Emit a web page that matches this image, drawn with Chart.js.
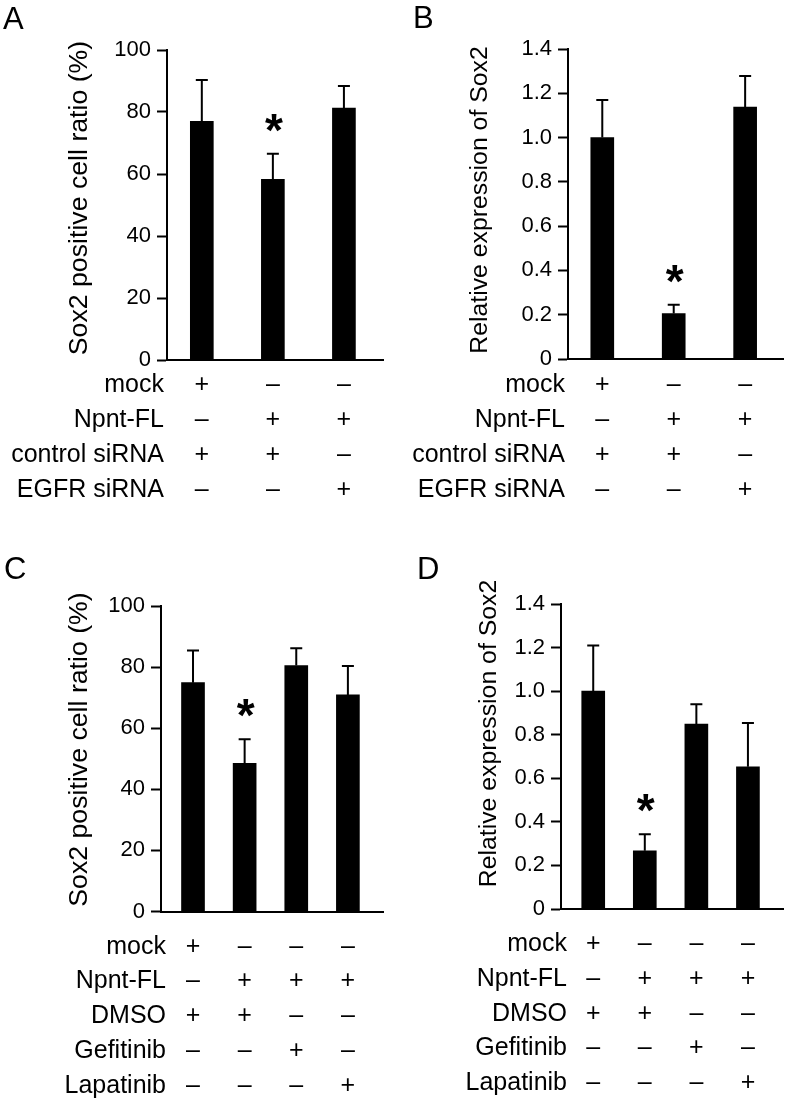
<!DOCTYPE html>
<html>
<head>
<meta charset="utf-8">
<title>Sox2 expression</title>
<script src="https://cdn.jsdelivr.net/npm/chart.js@4.4.1/dist/chart.umd.min.js"></script>
<style>
  body { margin: 0; background: #fff; }
  #wrap { position: relative; width: 787px; height: 1100px; }
  .panel { position: absolute; }
</style>
</head>
<body>
<div id="wrap">
  <div class="panel" style="left:0;top:0;width:393px;height:545px"><canvas id="chartA"></canvas></div>
  <div class="panel" style="left:393px;top:0;width:394px;height:545px"><canvas id="chartB"></canvas></div>
  <div class="panel" style="left:0;top:545px;width:393px;height:555px"><canvas id="chartC"></canvas></div>
  <div class="panel" style="left:393px;top:545px;width:394px;height:555px"><canvas id="chartD"></canvas></div>
</div>
<script>
(function () {
    "use strict";

    // Panels A/B: siRNA knockdown
    var rowsAB = ["mock", "Npnt-FL", "control siRNA", "EGFR siRNA"];
    var signsAB = [
        ["+", "–", "–"],
        ["–", "+", "+"],
        ["+", "+", "–"],
        ["–", "–", "+"]
    ];
    var ratioA = [77, 58.3, 81.3];
    var sdA = [13.3, 8.2, 7.1];
    var sigA = [false, true, false];

    var exprB = [1.0, 0.205, 1.138];
    var sdB = [0.17, 0.04, 0.14];
    var sigB = [false, true, false];

    // Panels C/D: inhibitors
    var rowsCD = ["mock", "Npnt-FL", "DMSO", "Gefitinib", "Lapatinib"];
    var signsCD = [
        ["+", "–", "–", "–"],
        ["–", "+", "+", "+"],
        ["+", "+", "–", "–"],
        ["–", "–", "+", "–"],
        ["–", "–", "–", "+"]
    ];
    var ratioC = [74.9, 48.5, 80.5, 70.9];
    var sdC = [10.5, 7.9, 5.7, 9.5];
    var sigC = [false, true, false, false];

    var exprD = [1.0, 0.267, 0.849, 0.653];
    var sdD = [0.21, 0.076, 0.091, 0.201];
    var sigD = [false, true, false, false];

    var FONT = '"Liberation Sans", Arial, Helvetica, sans-serif';
    Chart.defaults.font.family = FONT;
    Chart.defaults.color = "#000";

    // error bars, stars, letters, titles and row labels
    var panelPlugin = {
        id: "panel",
        afterDatasetsDraw: function (chart, args, o) {
            var ctx = chart.ctx, xs = chart.scales.x, ys = chart.scales.y;
            var pts = chart.data.datasets[0].data;
            ctx.save();
            ctx.fillStyle = "#000";
            ctx.strokeStyle = "#000";
            ctx.lineWidth = 2;
            pts.forEach(function (p, i) {
                var px = xs.getPixelForValue(p.x);
                var base = ys.getPixelForValue(p.y);
                var top = ys.getPixelForValue(p.y + o.sd[i]);
                ctx.beginPath();
                ctx.moveTo(px, base);
                ctx.lineTo(px, top);
                ctx.moveTo(px - 6, top);
                ctx.lineTo(px + 6, top);
                ctx.stroke();
                if (o.sig[i]) {
                    ctx.font = "bold 46px " + FONT;
                    ctx.textAlign = "center";
                    ctx.textBaseline = "alphabetic";
                    ctx.fillText("*", px + 1, top - 8);
                }
            });
            ctx.restore();
        },
        afterDraw: function (chart, args, o) {
            var ctx = chart.ctx, xs = chart.scales.x;
            var tk = chart.options.scales.x.ticks;
            var lh = tk.font.size * tk.font.lineHeight;
            // follow the first tick label so rows line up with the signs
            var item = xs.getLabelItems()[0];
            var y0 = item.options.translation[1] + item.textOffset;
            ctx.save();
            ctx.fillStyle = "#000";

            // panel letter
            ctx.font = "31px " + FONT;
            ctx.textAlign = "left";
            ctx.textBaseline = "alphabetic";
            ctx.fillText(o.letter, o.letterX, o.letterY);

            // y axis title
            ctx.save();
            ctx.translate(o.titleX, o.titleY);
            ctx.rotate(-Math.PI / 2);
            ctx.font = o.titleSize + "px " + FONT;
            ctx.textAlign = "center";
            ctx.fillText(o.title, 0, 0);
            ctx.restore();

            // condition row labels
            ctx.font = tk.font.size + "px " + FONT;
            ctx.textAlign = "right";
            ctx.textBaseline = item.options.textBaseline;
            o.rows.forEach(function (r, i) {
                ctx.fillText(r, o.rowRight, y0 + i * lh);
            });
            ctx.restore();
        }
    };

    function makeChart(id, p) {
        var pts = p.values.map(function (v, i) { return {x: i, y: v}; });
        return new Chart(document.getElementById(id), {
            type: "bar",
            data: {
                datasets: [{
                    data: pts,
                    backgroundColor: "#000",
                    borderWidth: 0,
                    barThickness: 23
                }]
            },
            options: {
                responsive: true,
                maintainAspectRatio: false,
                animation: false,
                layout: {padding: {left: 0, top: p.padTop, right: p.padRight, bottom: 0}},
                plugins: {
                    legend: {display: false},
                    tooltip: {enabled: false},
                    panel: {
                        sd: p.sd, sig: p.sig, rows: p.rows, rowRight: p.rowRight,
                        letter: p.letter, letterX: p.letterX, letterY: p.letterY,
                        title: p.title, titleX: p.titleX, titleY: p.titleY, titleSize: p.titleSize
                    }
                },
                scales: {
                    x: {
                        type: "linear",
                        min: p.xMin,
                        max: p.xMax,
                        offset: false,
                        grid: {display: false},
                        border: {display: true, color: "#000", width: 2},
                        afterBuildTicks: function (s) {
                            s.ticks = pts.map(function (d) { return {value: d.x}; });
                        },
                        afterFit: function (s) { s.height = p.xHeight; },
                        ticks: {
                            padding: p.rowPad,
                            maxRotation: 0,
                            autoSkip: false,
                            color: "#000",
                            font: {size: 25, lineHeight: p.rowLh},
                            callback: function (v) {
                                return p.signs.map(function (r) { return r[v]; });
                            }
                        }
                    },
                    y: {
                        min: 0,
                        max: p.yMax,
                        afterFit: function (s) { s.width = p.yWidth; },
                        grid: {
                            display: true,
                            drawOnChartArea: false,
                            drawTicks: true,
                            tickLength: 10,
                            tickWidth: 2,
                            tickColor: "#000"
                        },
                        border: {display: true, color: "#000", width: 2},
                        ticks: {
                            stepSize: p.yStep,
                            padding: 6,
                            color: "#000",
                            font: {size: 22},
                            callback: p.yFmt
                        }
                    }
                }
            },
            plugins: [panelPlugin]
        });
    }

    var pctFmt = function (v) { return String(v); };
    var relFmt = function (v) { return v === 0 ? "0" : v.toFixed(1); };

    makeChart("chartA", {
        values: ratioA, sd: sdA, sig: sigA, rows: rowsAB, signs: signsAB,
        yMax: 100, yStep: 20, yFmt: pctFmt, xMin: -0.49, xMax: 2.55,
        padTop: 50, padRight: 10, yWidth: 167, xHeight: 185, rowPad: 0, rowLh: 1.4, rowRight: 164,
        letter: "A", letterX: 3, letterY: 29,
        title: "Sox2 positive cell ratio (%)", titleX: 87, titleY: 198, titleSize: 26.7
    });

    makeChart("chartB", {
        values: exprB, sd: sdB, sig: sigB, rows: rowsAB, signs: signsAB,
        yMax: 1.4, yStep: 0.2, yFmt: relFmt, xMin: -0.48, xMax: 2.53,
        padTop: 49, padRight: 4, yWidth: 175, xHeight: 186, rowPad: 1, rowLh: 1.4, rowRight: 172,
        letter: "B", letterX: 20, letterY: 28,
        title: "Relative expression of Sox2", titleX: 94, titleY: 200, titleSize: 24.8
    });

    makeChart("chartC", {
        values: ratioC, sd: sdC, sig: sigC, rows: rowsCD, signs: signsCD,
        yMax: 100, yStep: 20, yFmt: pctFmt, xMin: -0.62, xMax: 3.68,
        padTop: 61, padRight: 10, yWidth: 161, xHeight: 188.5, rowPad: 10, rowLh: 1.388, rowRight: 166,
        letter: "C", letterX: 4, letterY: 34,
        title: "Sox2 positive cell ratio (%)", titleX: 87, titleY: 204.5, titleSize: 26.7
    });

    makeChart("chartD", {
        values: exprD, sd: sdD, sig: sigD, rows: rowsCD, signs: signsCD,
        yMax: 1.4, yStep: 0.2, yFmt: relFmt, xMin: -0.625, xMax: 3.68,
        padTop: 59, padRight: 4, yWidth: 168, xHeight: 191, rowPad: 10, rowLh: 1.388, rowRight: 174,
        letter: "D", letterX: 24, letterY: 34,
        title: "Relative expression of Sox2", titleX: 103, titleY: 188.5, titleSize: 24.8
    });
})();
</script>
</body>
</html>
